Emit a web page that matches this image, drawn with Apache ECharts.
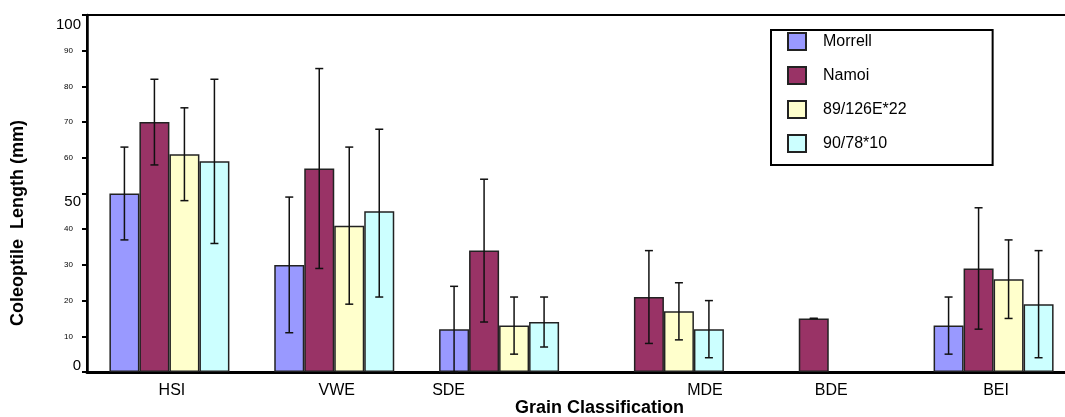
<!DOCTYPE html>
<html>
<head>
<meta charset="utf-8">
<script src="https://cdn.jsdelivr.net/npm/echarts@6/dist/echarts.min.js"></script>
<style>
html,body{margin:0;padding:0;background:#fff;}
#chart{width:1065px;height:417px;}
</style>
</head>
<body>
<div id="chart"></div>
<script>
const categories = ['HSI', 'VWE', 'SDE', 'MDE', 'BDE', 'BEI'];
const seriesNames = ['Morrell', 'Namoi', '89/126E*22', '90/78*10'];
const morrell = [50, 30, 12, null, null, 13];
const namoi = [70, 57, 34, 21, 15, 29];
const cross89 = [61, 41, 13, 17, null, 26];
const cross90 = [59, 45, 14, 12, null, 19];
const morrellLow = [37, 11, 0, null, null, 5];
const morrellHigh = [63, 49, 24, null, null, 21];
const namoiLow = [58, 29, 14, 8, 15, 12];
const namoiHigh = [82, 85, 54, 34, 15, 46];
const cross89Low = [48, 19, 5, 9, null, 15];
const cross89High = [74, 63, 21, 25, null, 37];
const cross90Low = [36, 21, 7, 4, null, 4];
const cross90High = [82, 68, 21, 20, null, 34];
const yTicks = [0, 10, 20, 30, 40, 50, 60, 70, 80, 90, 100];

const colors = ['#9999FF', '#993366', '#FFFFCC', '#CCFFFF'];
const values = [morrell, namoi, cross89, cross90];
const lows = [morrellLow, namoiLow, cross89Low, cross90Low];
const highs = [morrellHigh, namoiHigh, cross89High, cross90High];
const BAR_W = 30;
const FONT = '"Liberation Sans", Arial, sans-serif';

const chart = echarts.init(document.getElementById('chart'));

const series = [];
values.forEach((vals, i) => {
  series.push({
    name: seriesNames[i],
    type: 'bar',
    data: vals,
    barWidth: BAR_W,
    barGap: '0%',
    itemStyle: { color: colors[i], borderColor: '#222', borderWidth: 1.5 },
    emphasis: { disabled: true },
    z: 2
  });
});
values.forEach((vals, i) => {
  const offset = (i - 1.5) * BAR_W;
  const data = [];
  categories.forEach((c, k) => {
    if (lows[i][k] != null && highs[i][k] != null) data.push([k, lows[i][k], highs[i][k]]);
  });
  series.push({
    name: 'err' + i,
    type: 'custom',
    data: data,
    encode: { x: 0, y: [1, 2] },
    z: 5,
    silent: true,
    renderItem: function (params, api) {
      const lo = api.coord([api.value(0), api.value(1)]);
      const hi = api.coord([api.value(0), api.value(2)]);
      const x = lo[0] + offset;
      const cap = 4;
      const style = { stroke: '#111', lineWidth: 1.5, fill: null };
      return {
        type: 'group',
        children: [
          { type: 'line', shape: { x1: x, y1: hi[1], x2: x, y2: lo[1] }, style: style },
          { type: 'line', shape: { x1: x - cap, y1: hi[1], x2: x + cap, y2: hi[1] }, style: style },
          { type: 'line', shape: { x1: x - cap, y1: lo[1], x2: x + cap, y2: lo[1] }, style: style }
        ]
      };
    }
  });
});

const xShift = { 'SDE': 'l', 'MDE': 'r' };

chart.setOption({
  animation: false,
  textStyle: { fontFamily: FONT },
  grid: {
    left: 87, top: 15, width: 989, bottom: 45,
    outerBoundsMode: 'none',
    containLabel: false,
    show: true, borderColor: '#000', borderWidth: 2, backgroundColor: 'transparent'
  },
  legend: {
    data: seriesNames,
    orient: 'vertical',
    left: 771, top: 30,
    padding: [2, 86, 12, 16],
    itemWidth: 18, itemHeight: 17, itemGap: 15,
    icon: 'rect',
    borderColor: '#000', borderWidth: 2,
    backgroundColor: '#fff',
    selectedMode: false,
    textStyle: { fontSize: 16, color: '#000', fontFamily: FONT, padding: [0, 0, 0, 12] }
  },
  xAxis: {
    type: 'category',
    data: categories,
    name: 'Grain Classification',
    nameLocation: 'middle',
    nameGap: 27,
    nameMoveOverlap: false,
    nameTextStyle: { fontSize: 18, fontWeight: 'bold', color: '#000', fontFamily: FONT, padding: [0, 0, 0, 36] },
    axisLine: { lineStyle: { color: '#000', width: 3 } },
    axisTick: { show: false },
    axisLabel: {
      margin: 11,
      color: '#000',
      fontSize: 16,
      fontFamily: FONT,
      interval: 0,
      formatter: function (v) {
        if (xShift[v] === 'l') return '{l|' + v + '}';
        if (xShift[v] === 'r') return '{r|' + v + '}';
        return '{n|' + v + '}';
      },
      rich: {
        n: { fontSize: 16, color: '#000', fontFamily: FONT, padding: [0, 0, 0, 5] },
        l: { fontSize: 16, color: '#000', fontFamily: FONT, padding: [0, 101, 0, 0] },
        r: { fontSize: 16, color: '#000', fontFamily: FONT, padding: [0, 0, 0, 82] }
      }
    }
  },
  yAxis: {
    type: 'value',
    min: yTicks[0],
    max: yTicks[yTicks.length - 1],
    interval: yTicks[1] - yTicks[0],
    name: 'Coleoptile  Length (mm)',
    nameLocation: 'middle',
    nameGap: 60,
    nameMoveOverlap: false,
    nameTextStyle: { fontSize: 18, fontWeight: 'bold', color: '#000', fontFamily: FONT, padding: [0, 59, 0, 0] },
    splitLine: { show: false },
    axisLine: { show: true, lineStyle: { color: '#000', width: 2.5 } },
    axisTick: { show: true, length: 5, lineStyle: { color: '#000', width: 2 } },
    axisLabel: {
      margin: 6,
      color: '#000',
      fontFamily: FONT,
      formatter: function (v) {
        if (v === 100) return '{t|' + v + '}';
        if (v === 50) return '{m|' + v + '}';
        if (v === 0) return '{z|' + v + '}';
        return '{s|' + v + '}';
      },
      rich: {
        t: { fontSize: 15, color: '#000', fontFamily: FONT, padding: [20, 0, 0, 0] },
        m: { fontSize: 15, color: '#000', fontFamily: FONT, padding: [16, 0, 0, 0] },
        z: { fontSize: 15, color: '#000', fontFamily: FONT, padding: [0, 0, 12, 0] },
        s: { fontSize: 8, color: '#000', fontFamily: FONT, padding: [0, 8, 0, 0] }
      }
    }
  },
  series: series
});
</script>
</body>
</html>
